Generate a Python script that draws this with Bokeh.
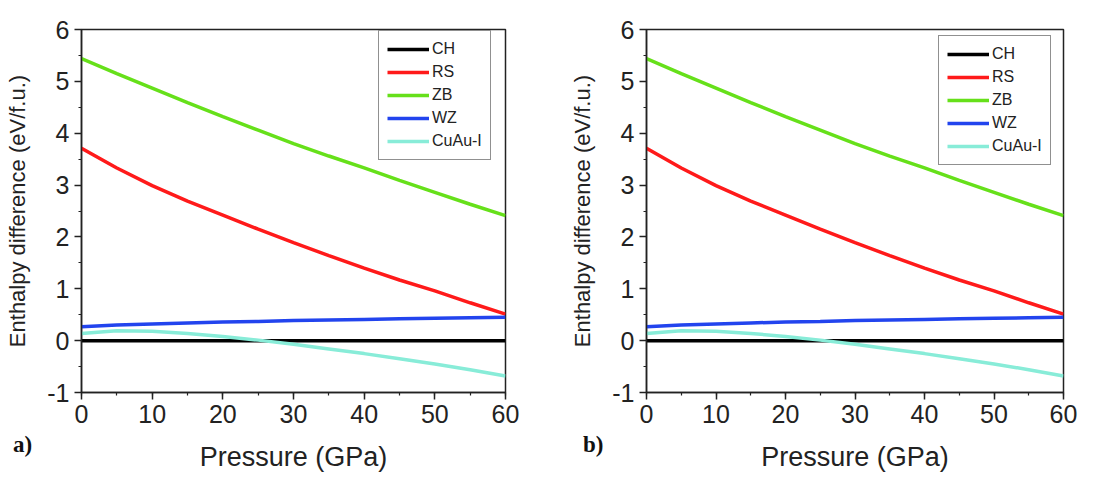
from bokeh.plotting import figure
from bokeh.layouts import row
from bokeh.models import Legend, LegendItem, Div, PrintfTickFormatter
from bokeh.embed import file_html
from bokeh.resources import INLINE

pressure = [0, 5, 10, 15, 20, 25, 30, 35, 40, 45, 50, 55, 60]
series_names = ["CH", "RS", "ZB", "WZ", "CuAu-I"]
ch = [0, 0, 0, 0, 0, 0, 0, 0, 0, 0, 0, 0, 0]
rs = [3.71, 3.33, 2.99, 2.69, 2.42, 2.15, 1.89, 1.64, 1.40, 1.17, 0.96, 0.73, 0.51]
zb = [5.44, 5.15, 4.87, 4.59, 4.32, 4.06, 3.80, 3.56, 3.33, 3.09, 2.86, 2.63, 2.41]
wz = [0.27, 0.30, 0.32, 0.34, 0.36, 0.37, 0.39, 0.40, 0.41, 0.42, 0.43, 0.44, 0.45]
cuau = [0.14, 0.19, 0.18, 0.14, 0.08, 0.01, -0.07, -0.16, -0.25, -0.35, -0.45, -0.56, -0.68]
colors = ["#000000", "#ff1a1a", "#66e01a", "#2244ee", "#88ecd8"]
panel_labels = ["a)", "b)"]

FONT = "Liberation Sans"


def make_panel(width, height, bl, bt, br, bb, leg_xy):
    p = figure(width=width, height=height, output_backend="svg", toolbar_location=None,
               x_range=(0, 60), y_range=(-1, 6),
               min_border_left=bl, min_border_top=bt, min_border_right=br, min_border_bottom=bb)
    p.xgrid.visible = False
    p.ygrid.visible = False
    p.outline_line_color = "#222222"
    p.outline_line_width = 1.5
    p.background_fill_color = "white"
    p.border_fill_color = "white"

    for ax in (p.xaxis[0], p.yaxis[0]):
        ax.axis_line_color = "#222222"
        ax.axis_line_width = 1.5
        ax.major_tick_line_color = "#222222"
        ax.major_tick_line_width = 1.5
        ax.minor_tick_line_color = "#222222"
        ax.minor_tick_line_width = 1.2
        ax.major_tick_out = 7
        ax.major_tick_in = 0
        ax.minor_tick_out = 3
        ax.minor_tick_in = 0
        ax.major_label_text_font = FONT
        ax.major_label_text_color = "#222222"
        ax.axis_label_text_font = FONT
        ax.axis_label_text_font_style = "normal"
        ax.axis_label_text_color = "#222222"
        ax.formatter = PrintfTickFormatter(format="%d")

    p.xaxis.ticker.desired_num_ticks = 7
    p.xaxis[0].ticker.num_minor_ticks = 2
    p.yaxis[0].ticker.num_minor_ticks = 2
    p.xaxis.major_label_text_font_size = "25px"
    p.yaxis.major_label_text_font_size = "25px"
    p.xaxis.axis_label = "Pressure (GPa)"
    p.xaxis.axis_label_text_font_size = "27px"
    p.xaxis.axis_label_standoff = 16
    p.yaxis.axis_label = "Enthalpy difference (eV/f.u.)"
    p.yaxis.axis_label_text_font_size = "22px"
    p.yaxis.axis_label_standoff = 14
    p.xaxis.major_label_standoff = 5
    p.yaxis.major_label_standoff = 5

    items = []
    for name, ys, c in zip(series_names, [ch, rs, zb, wz, cuau], colors):
        r = p.line(pressure, ys, line_color=c, line_width=3.5)
        items.append(LegendItem(label=name, renderers=[r]))

    legend = Legend(items=items, location=leg_xy,
                    label_text_font=FONT, label_text_font_size="16px", label_text_color="#222222",
                    glyph_width=42, glyph_height=20, label_height=20, spacing=3,
                    padding=8, margin=0, label_standoff=3,
                    border_line_color="#222222", border_line_width=1.5,
                    background_fill_alpha=1.0)
    p.add_layout(legend, "center")
    return p


def make_label(text, left, top):
    html = ('<span style="font-family:\'Liberation Serif\';font-weight:bold;'
            'font-size:23px;color:#111111;line-height:1">' + text + '</span>')
    return Div(text=html, width=34, height=28,
               styles={"position": "absolute", "left": f"{left}px", "top": f"{top}px"})


pa = make_panel(558, 482, 81, 25, 53, 85, (297, 232))
pb = make_panel(559, 482, 88, 29, 54, 90, (292, 227))

layout = row(pa, pb, make_label(panel_labels[0], 8, 428), make_label(panel_labels[1], 578, 428),
             spacing=0)
open("out.html", "w").write(file_html(layout, INLINE))
